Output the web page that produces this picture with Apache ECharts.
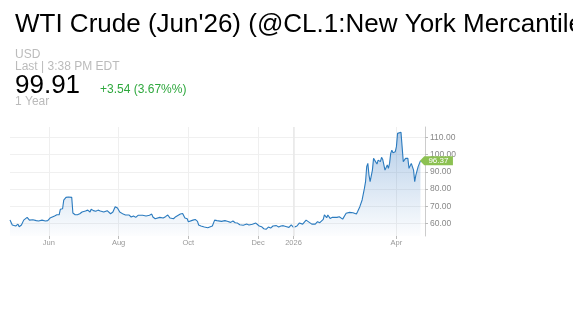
<!DOCTYPE html>
<html>
<head>
<meta charset="utf-8">
<script src="https://cdn.jsdelivr.net/npm/echarts@6/dist/echarts.min.js"></script>
<style>
html,body{margin:0;padding:0;background:#fff;}
#chart{width:573px;height:323px;}
</style>
</head>
<body>
<div id="chart"></div>
<script>
var dates = [
'2025-04-28','2025-04-30','2025-05-01','2025-05-03','2025-05-05','2025-05-06','2025-05-08','2025-05-10','2025-05-13','2025-05-15',
'2025-05-16','2025-05-18','2025-05-21','2025-05-23','2025-05-26','2025-05-29','2025-05-31','2025-06-02','2025-06-03','2025-06-06',
'2025-06-08','2025-06-10','2025-06-11','2025-06-13','2025-06-14','2025-06-16','2025-06-18','2025-06-21','2025-06-22','2025-06-24',
'2025-06-26','2025-06-28','2025-06-30','2025-07-01','2025-07-03','2025-07-05','2025-07-07','2025-07-08','2025-07-10','2025-07-12',
'2025-07-14','2025-07-16','2025-07-19','2025-07-22','2025-07-25','2025-07-27','2025-07-29','2025-07-31','2025-08-01','2025-08-02',
'2025-08-05','2025-08-07','2025-08-10','2025-08-12','2025-08-14','2025-08-16','2025-08-18','2025-08-19','2025-08-22','2025-08-25',
'2025-08-26','2025-08-28','2025-08-30','2025-08-31','2025-09-02','2025-09-03','2025-09-06','2025-09-09','2025-09-11','2025-09-13',
'2025-09-15','2025-09-18','2025-09-20','2025-09-21','2025-09-24','2025-09-26','2025-09-28','2025-09-30','2025-10-01','2025-10-02',
'2025-10-05','2025-10-07','2025-10-09','2025-10-10','2025-10-12','2025-10-15','2025-10-18','2025-10-19','2025-10-22','2025-10-24',
'2025-10-26','2025-10-27','2025-10-30','2025-10-31','2025-11-02','2025-11-04','2025-11-05','2025-11-07','2025-11-09','2025-11-11',
'2025-11-13','2025-11-15','2025-11-18','2025-11-21','2025-11-23','2025-11-26','2025-11-29','2025-11-30','2025-12-02','2025-12-04',
'2025-12-06','2025-12-08','2025-12-10','2025-12-12','2025-12-14','2025-12-15','2025-12-17','2025-12-19','2025-12-21','2025-12-23',
'2025-12-26','2025-12-28','2025-12-30','2026-01-01','2026-01-02','2026-01-04','2026-01-06','2026-01-07','2026-01-09','2026-01-12',
'2026-01-13','2026-01-17','2026-01-20','2026-01-22','2026-01-24','2026-01-27','2026-01-28','2026-01-30','2026-01-31','2026-02-02',
'2026-02-03','2026-02-04','2026-02-08','2026-02-10','2026-02-13','2026-02-16','2026-02-19','2026-02-22','2026-02-25','2026-02-26',
'2026-02-28','2026-03-02','2026-03-03','2026-03-04','2026-03-05','2026-03-06','2026-03-07','2026-03-08','2026-03-09','2026-03-11',
'2026-03-12','2026-03-13','2026-03-15','2026-03-16','2026-03-18','2026-03-19','2026-03-20','2026-03-22','2026-03-24','2026-03-25',
'2026-03-26','2026-03-27','2026-03-28','2026-03-29','2026-03-31','2026-04-01','2026-04-02','2026-04-03','2026-04-05','2026-04-06',
'2026-04-07','2026-04-08','2026-04-09','2026-04-10','2026-04-11','2026-04-12','2026-04-14','2026-04-15','2026-04-16','2026-04-17',
'2026-04-18','2026-04-19','2026-04-20','2026-04-22'
];
var prices = [
62.1,59.2,60.3,58.6,59.7,58.2,59.2,62.0,63.6,62.0,
62.8,62.2,61.7,61.5,62.0,61.5,61.7,63.2,63.8,64.4,
65.1,65.1,68.3,68.6,73.6,75.2,75.4,75.2,66.1,65.1,
65.1,65.7,66.7,67.8,67.3,67.8,66.7,68.3,67.5,67.1,
67.8,67.3,66.7,67.5,65.7,66.7,69.8,69.0,68.3,66.7,
65.5,65.0,65.0,63.8,64.4,63.6,64.8,63.8,64.8,64.4,
65.4,64.8,65.5,63.8,62.8,63.2,63.6,63.2,64.0,65.0,
63.2,62.8,64.0,65.0,65.5,65.9,63.2,62.8,61.1,60.9,
62.0,62.4,61.3,59.2,58.6,58.0,57.6,57.8,58.6,62.0,
61.7,61.5,61.3,60.9,61.7,61.3,60.3,60.7,61.5,60.5,
60.3,59.3,59.0,59.7,59.2,59.6,60.3,59.3,58.6,58.2,
57.0,56.7,58.0,57.4,58.6,58.0,58.8,58.0,58.6,58.8,
58.2,57.8,59.2,57.8,57.0,58.6,60.3,60.5,59.7,62.0,
61.1,59.7,59.7,61.1,60.5,62.5,65.0,63.4,65.0,63.0,
64.0,63.6,63.6,64.0,62.6,66.0,66.5,66.3,65.5,66.9,
69.8,73.7,74.6,80.4,84.3,93.0,94.9,88.1,84.3,91.0,
97.8,98.8,94.5,96.8,95.9,98.4,97.2,91.0,94.0,92.0,
94.9,100.7,102.6,101.1,101.7,104.6,112.3,112.7,112.9,112.7,
95.9,95.3,97.8,98.8,97.8,92.0,94.9,94.0,91.0,84.3,
88.1,90.6,93.0,96.37
];
var xTickDates = ['2025-06-01','2025-08-01','2025-10-01','2025-12-01','2026-01-01','2026-04-01'];
var xTickLabels = ['Jun','Aug','Oct','Dec','2026','Apr'];
var yTicks = [60,70,80,90,100,110];

function toTs(s){var p=s.split('-');return Date.UTC(+p[0],+p[1]-1,+p[2]);}
var seriesData = dates.map(function(d,i){return [toTs(d),prices[i]];});
var xTickTs = xTickDates.map(toTs);
var last = seriesData[seriesData.length-1];

var chart = echarts.init(document.getElementById('chart'),null,{renderer:'canvas'});
var font = 'Liberation Sans, Arial, sans-serif';
function t(text,left,top,size,color){
  return {text:text,left:left,top:top,padding:0,textStyle:{fontFamily:font,fontSize:size,fontWeight:'normal',color:color}};
}
chart.setOption({
  animation:false,
  backgroundColor:'#fff',
  title:[
    t("WTI Crude (Jun'26) (@CL.1:New York Mercantile Exchange)",15,12,26,'#000'),
    t('USD',15,49,12,'#bbbbbb'),
    t('Last | 3:38 PM EDT',15,61,12,'#bbbbbb'),
    t('99.91',15,73,26,'#000'),
    t('+3.54 (3.67%%)',100,84,12,'#2fa83e'),
    t('1 Year',15,96,12,'#bbbbbb')
  ],
  grid:{left:10,right:148,top:127,bottom:87,containLabel:false},
  xAxis:{
    type:'value',
    min:toTs('2025-04-28'),max:toTs('2026-04-26'),
    axisLine:{show:false},
    axisTick:{show:true,length:3,lineStyle:{color:'#bbb'},customValues:xTickTs},
    axisLabel:{customValues:xTickTs,fontFamily:font,fontSize:7.5,color:'#999',margin:3,
      formatter:function(v){var i=xTickTs.indexOf(v);return i>=0?xTickLabels[i]:'';}},
    splitLine:{show:true,lineStyle:{color:'#efefef',width:1}}
  },
  yAxis:{
    type:'value',position:'right',min:52.8,max:116,
    axisLine:{show:true,lineStyle:{color:'#cccccc'}},
    axisTick:{show:true,length:3,inside:false,lineStyle:{color:'#bbb'},customValues:yTicks},
    axisLabel:{customValues:yTicks,fontFamily:font,fontSize:8.5,color:'#888',margin:5,
      formatter:function(v){return v.toFixed(2);}},
    splitLine:{show:true,lineStyle:{color:'#f0f0f0'}}
  },
  series:[{
    type:'line',
    data:seriesData,
    showSymbol:false,
    lineStyle:{color:'#2b7bbf',width:1.1},
    areaStyle:{color:new echarts.graphic.LinearGradient(0,0,0,1,[
      {offset:0,color:'rgba(60,125,195,0.55)'},
      {offset:1,color:'rgba(60,125,195,0.02)'}
    ])},
    markLine:{silent:true,symbol:['none','none'],label:{show:false},
      lineStyle:{color:'#e9e9e9',width:1.5,type:'solid'},
      data:[{xAxis:toTs('2026-01-01')}]},
    markPoint:{silent:true,
      data:[{coord:last,value:last[1]}],
      symbol:'path://M0,5 L5,0 L38,0 L38,10 L5,10 Z',
      symbolSize:[33,9],symbolKeepAspect:false,symbolOffset:[16,0],
      itemStyle:{color:'#8cc152'},
      label:{show:true,position:'inside',offset:[2,0],color:'#fff',fontFamily:font,fontSize:8,
        formatter:function(p){return p.value.toFixed(2);}}
    }
  }]
});
</script>
</body>
</html>
